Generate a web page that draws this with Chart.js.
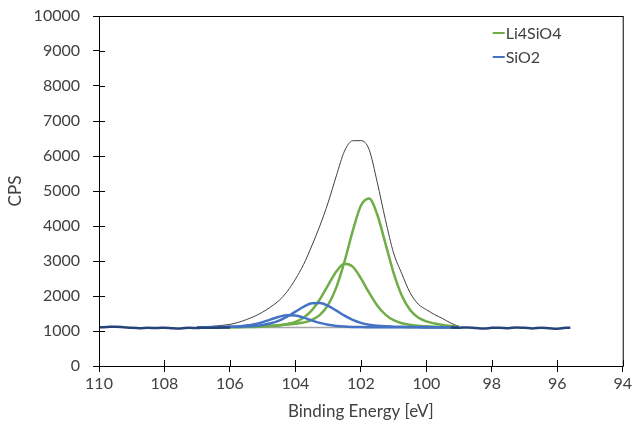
<!DOCTYPE html>
<html>
<head>
<meta charset="utf-8">
<script src="https://cdn.jsdelivr.net/npm/chart.js@4.4.1/dist/chart.umd.min.js"></script>
<style>
  html, body { margin: 0; padding: 0; background: #fff; }
  #wrap { width: 634px; height: 434px; }
</style>
</head>
<body>
<div id="wrap"><canvas id="chart"></canvas></div>
<script>
// binding energies (eV) for the fitted components and the envelope
const energy = [107, 106.75, 106.5, 106.25, 106, 105.75, 105.5, 105.25, 105, 104.75, 104.5, 104.25, 104,
    103.75, 103.5, 103.25, 103, 102.75, 102.5, 102.25, 102, 101.75, 101.5, 101.25, 101,
    100.75, 100.5, 100.25, 100, 99.75, 99.5, 99.25, 99];

// Li4SiO4 components
const li4sio4Main = [1103, 1104, 1105, 1107, 1110, 1113, 1118, 1125, 1135, 1148, 1165, 1187, 1208,
    1244, 1314, 1459, 1745, 2247, 2984, 3853, 4578, 4785, 4329, 3503, 2664,
    2017, 1609, 1388, 1275, 1215, 1170, 1140, 1120];
const li4sio4Second = [1102, 1103, 1104, 1105, 1107, 1109, 1112, 1117, 1125, 1140, 1160, 1199, 1260,
    1379, 1589, 1908, 2310, 2701, 2921, 2839, 2508, 2095, 1729, 1467, 1308,
    1223, 1181, 1150, 1135, 1122, 1112, 1106, 1103];

// SiO2 components
const sio2Main = [1106, 1108, 1111, 1116, 1119, 1124, 1131, 1146, 1172, 1220, 1299, 1412, 1552,
    1693, 1792, 1801, 1718, 1582, 1439, 1319, 1233, 1180, 1150, 1133, 1125,
    1120, 1116, 1113, 1111, 1109, 1107, 1105, 1104];
const sio2Second = [1105, 1107, 1110, 1114, 1119, 1131, 1154, 1194, 1255, 1332, 1408, 1453, 1443,
    1383, 1303, 1231, 1177, 1144, 1126, 1117, 1112, 1110, 1108, 1107, 1106,
    1105, 1104, 1104, 1103, 1103, 1102, 1102, 1102];

// measured envelope
const envelope = [1105, 1115, 1135, 1160, 1190, 1245, 1325, 1420, 1540, 1690, 1870, 2130, 2480,
    2900, 3430, 4010, 4670, 5430, 6140, 6435, 6440, 6190, 5250, 4180, 3230,
    2640, 2100, 1770, 1610, 1470, 1355, 1225, 1130];

// background
const bgEnergy = [107, 99];
const bgCounts = [1100, 1100];

// raw counts outside the peak region (null = gap)
const rawEnergy = [110, 109.75, 109.5, 109.25, 109, 108.75, 108.5, 108.25, 108, 107.75, 107.5, 107.25,
    107, 106.75, 106.5, 106.25, 106, 102.5,
    99.25, 99, 98.75, 98.5, 98.25, 98, 97.75, 97.5, 97.25, 97, 96.75, 96.5, 96.25, 96, 95.75, 95.6];
const rawCounts = [1105, 1115, 1125, 1110, 1090, 1080, 1090, 1085, 1095, 1080, 1075, 1090,
    1085, 1095, 1090, 1100, 1100, null,
    1100, 1095, 1100, 1085, 1070, 1090, 1095, 1080, 1100, 1090, 1075, 1095, 1080, 1065, 1090, 1095];

const green = '#70AD47';
const blue = '#4472C4';
const navy = '#264478';
const textColor = '#404040';
const fontFamily = 'Lato';

function pts(xs, ys) {
    return xs.map((x, i) => ({ x: x, y: ys[i] }));
}

function line(data, color, width, extra) {
    return Object.assign({
        data: data,
        borderColor: color,
        backgroundColor: color,
        borderWidth: width,
        pointRadius: 0,
        fill: false,
        cubicInterpolationMode: 'monotone',
        spanGaps: false
    }, extra || {});
}

// first dataset is drawn on top
const datasets = [
    line(pts(rawEnergy, rawCounts), navy, 2.5),
    line(pts(energy, sio2Main), blue, 2.5, { legendLabel: 'SiO2' }),
    line(pts(energy, sio2Second), blue, 2.5),
    line(pts(energy, li4sio4Main), green, 2.5, { legendLabel: 'Li4SiO4' }),
    line(pts(energy, li4sio4Second), green, 2.5),
    line(pts(energy, envelope), '#404040', 1),
    line(pts(bgEnergy, bgCounts), '#A6A6A6', 1.5)
];

// frame, inner tick halves and legend
const extras = {
    id: 'extras',
    afterDraw(chart) {
        const ctx = chart.ctx;
        const a = chart.chartArea;
        ctx.save();
        ctx.strokeStyle = '#000';
        ctx.lineWidth = 1;
        ctx.strokeRect(a.left + 0.5, a.top + 0.5, a.right - a.left, a.bottom - a.top);

        ctx.beginPath();
        chart.scales.y.ticks.forEach(t => {
            const y = Math.round(chart.scales.y.getPixelForValue(t.value)) + 0.5;
            ctx.moveTo(a.left, y);
            ctx.lineTo(a.left + 6, y);
        });
        chart.scales.x.ticks.forEach(t => {
            const x = Math.round(chart.scales.x.getPixelForValue(t.value)) + 0.5;
            ctx.moveTo(x, a.bottom);
            ctx.lineTo(x, a.bottom - 6);
        });
        ctx.stroke();

        // legend
        const entries = chart.data.datasets.filter(d => d.legendLabel);
        entries.sort((p, q) => (p.legendLabel === 'Li4SiO4' ? -1 : 1));
        ctx.font = '16px ' + fontFamily;
        ctx.textBaseline = 'middle';
        ctx.fillStyle = textColor;
        entries.forEach((d, i) => {
            const y = a.top + 17 + i * 24;
            const x = a.right - 130;
            ctx.strokeStyle = d.borderColor;
            ctx.lineWidth = 2;
            ctx.beginPath();
            ctx.moveTo(x, y);
            ctx.lineTo(x + 12, y);
            ctx.stroke();
            ctx.fillText(d.legendLabel, x + 13, y + 1);
        });
        ctx.restore();
    }
};

new Chart(document.getElementById('chart'), {
    type: 'line',
    data: { datasets: datasets },
    options: {
        responsive: true,
        maintainAspectRatio: false,
        animation: false,
        devicePixelRatio: 1,
        layout: { padding: { top: 16, right: 11, bottom: 0, left: 0 } },
        plugins: {
            legend: { display: false },
            tooltip: { enabled: false }
        },
        scales: {
            x: {
                type: 'linear',
                reverse: true,
                min: 94,
                max: 110,
                afterFit: s => { s.height = 68; },
                ticks: { stepSize: 2, color: textColor, font: { family: fontFamily, size: 16 }, padding: 2, maxRotation: 0,
                    callback: v => String(v) },
                grid: { drawOnChartArea: false, drawTicks: true, tickLength: 6, color: '#000' },
                border: { color: '#000' },
                title: { display: true, text: 'Binding Energy [eV]', color: textColor,
                    font: { family: fontFamily, size: 17 }, padding: { top: 0, bottom: 12 } }
            },
            y: {
                min: 0,
                max: 10000,
                afterFit: s => { s.width = 99; s.paddingTop = 0; s.paddingBottom = 0; },
                ticks: { stepSize: 1000, color: textColor, font: { family: fontFamily, size: 16 }, padding: 13,
                    callback: v => String(v) },
                grid: { drawOnChartArea: false, drawTicks: true, tickLength: 6, color: '#000' },
                border: { color: '#000' },
                title: { display: true, text: 'CPS', color: textColor,
                    font: { family: fontFamily, size: 17 }, padding: { top: 5, bottom: 0 } }
            }
        }
    },
    plugins: [extras]
});
</script>
</body>
</html>
